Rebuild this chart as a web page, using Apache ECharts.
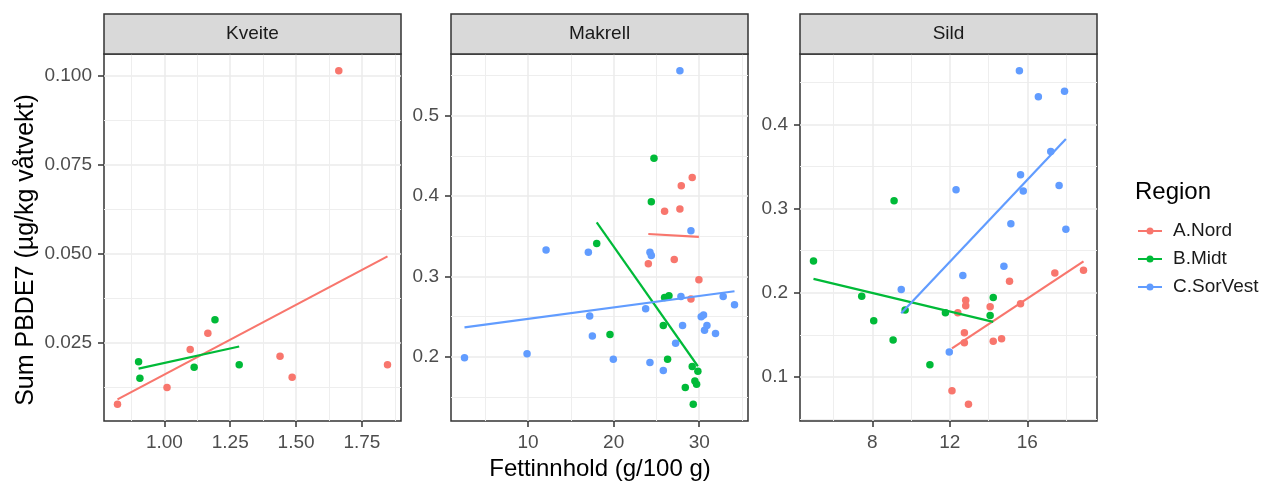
<!DOCTYPE html>
<html>
<head>
<meta charset="utf-8">
<script src="https://cdn.jsdelivr.net/npm/echarts@6/dist/echarts.min.js"></script>
<style>
  html, body { margin: 0; padding: 0; background: #fff; }
  #chart { width: 1262px; height: 482px; }
</style>
</head>
<body>
<div id="chart"></div>
<script>
const species = ['Kveite', 'Makrell', 'Sild']
const regions = ['A.Nord', 'B.Midt', 'C.SorVest']
const regionColors = ['#F8766D', '#00BA38', '#619CFF']

// [fett, sum PBDE7] per art og region
const kveiteNord = [[0.822, 0.0077], [1.010, 0.0124], [1.098, 0.0231], [1.165, 0.0277], [1.439, 0.0212], [1.485, 0.0153], [1.662, 0.1015], [1.847, 0.0188]]
const kveiteMidt = [[0.902, 0.0197], [0.907, 0.0150], [1.113, 0.0181], [1.192, 0.0315], [1.284, 0.0188]]
const kveiteSorVest = []

const makrellNord = [[24.05, 0.316], [25.95, 0.381], [27.08, 0.321], [27.74, 0.384], [27.90, 0.413], [29.03, 0.272], [29.18, 0.423], [29.96, 0.296]]
const makrellMidt = [[18.02, 0.341], [19.57, 0.228], [24.40, 0.393], [24.71, 0.447], [25.80, 0.239], [25.95, 0.274], [26.30, 0.197], [26.46, 0.276], [28.37, 0.162], [29.18, 0.188], [29.30, 0.141], [29.49, 0.170], [29.69, 0.166], [29.84, 0.182]]
const makrellSorVest = [[2.57, 0.199], [9.88, 0.204], [12.10, 0.333], [17.04, 0.330], [17.20, 0.251], [17.51, 0.226], [19.96, 0.197], [23.74, 0.260], [24.24, 0.330], [24.40, 0.326], [24.24, 0.193], [25.80, 0.183], [27.24, 0.217], [27.74, 0.556], [27.86, 0.275], [28.05, 0.239], [29.03, 0.357], [30.23, 0.250], [30.50, 0.252], [30.62, 0.233], [30.90, 0.239], [31.90, 0.229], [32.80, 0.275], [34.12, 0.265]]

const sildNord = [[12.11, 0.0838], [12.41, 0.1762], [12.75, 0.1525], [12.75, 0.1407], [12.82, 0.1912], [12.82, 0.1845], [12.96, 0.0676], [14.08, 0.1833], [14.24, 0.1426], [14.67, 0.1454], [15.08, 0.2137], [15.65, 0.1869], [17.42, 0.2236], [18.90, 0.2267]]
const sildMidt = [[4.96, 0.2378], [7.45, 0.1959], [8.07, 0.1667], [9.07, 0.1438], [9.12, 0.3092], [9.69, 0.1794], [10.97, 0.1146], [11.77, 0.1762], [14.08, 0.1730], [14.24, 0.1944]]
const sildSorVest = [[9.49, 0.2038], [11.97, 0.1296], [12.32, 0.3223], [12.67, 0.2204], [14.79, 0.2315], [15.15, 0.2820], [15.59, 0.4636], [15.65, 0.3400], [15.79, 0.3207], [16.57, 0.4328], [17.21, 0.3677], [17.64, 0.3274], [17.92, 0.4391], [17.99, 0.2753]]

const panelData = [
  [kveiteNord, kveiteMidt, kveiteSorVest],
  [makrellNord, makrellMidt, makrellSorVest],
  [sildNord, sildMidt, sildSorVest]
]

// akseverdier
const xMajor = [[1, 1.25, 1.5, 1.75], [10, 20, 30], [8, 12, 16]]
const xMinor = [[0.875, 1.125, 1.375, 1.625, 1.875], [5, 15, 25, 35], [6, 10, 14, 18]]
const yMajor = [[0.025, 0.05, 0.075, 0.1], [0.2, 0.3, 0.4, 0.5], [0.1, 0.2, 0.3, 0.4]]
const yMinor = [[0.0125, 0.0375, 0.0625, 0.0875], [0.15, 0.25, 0.35, 0.45, 0.55], [0.05, 0.15, 0.25, 0.35, 0.45]]
const xDigits = [2, 0, 0]
const yDigits = [3, 1, 1]

const FONT = '"Liberation Sans", Arial, sans-serif'
const panelLeft = [104, 451, 800]
const panelWidth = 297
const panelTop = 54
const panelHeight = 367

// ggplot legger 5 % luft på hver side
function expandRange(vals) {
  const lo = Math.min(...vals)
  const hi = Math.max(...vals)
  const pad = (hi - lo) * 0.05
  return [lo - pad, hi + pad]
}

// lineær regresjon (geom_smooth method = lm)
function fitLine(points) {
  const n = points.length
  const mx = points.reduce((s, p) => s + p[0], 0) / n
  const my = points.reduce((s, p) => s + p[1], 0) / n
  let sxy = 0
  let sxx = 0
  points.forEach(p => {
    sxy += (p[0] - mx) * (p[1] - my)
    sxx += (p[0] - mx) * (p[0] - mx)
  })
  const b = sxy / sxx
  const a = my - b * mx
  const xs = points.map(p => p[0])
  const x0 = Math.min(...xs)
  const x1 = Math.max(...xs)
  return [[x0, a + b * x0], [x1, a + b * x1]]
}

const grid = []
const xAxis = []
const yAxis = []
const series = []

species.forEach((name, i) => {
  const pts = panelData[i].flat()
  const xr = expandRange(pts.map(p => p[0]))
  const yr = expandRange(pts.map(p => p[1]))

  grid.push({
    left: panelLeft[i], top: panelTop, width: panelWidth, height: panelHeight,
    show: true, borderColor: '#333333', borderWidth: 1.5, backgroundColor: '#fff'
  })

  // minor rutenett
  xAxis.push({
    type: 'value', gridIndex: i, position: 'bottom', min: xr[0], max: xr[1],
    axisLine: { show: false, onZero: false },
    axisLabel: { show: false },
    axisTick: { show: false, customValues: xMinor[i] },
    splitLine: { show: true, customValues: xMinor[i], lineStyle: { color: '#EEEEEE', width: 1 } }
  })
  yAxis.push({
    type: 'value', gridIndex: i, position: 'left', min: yr[0], max: yr[1],
    axisLine: { show: false, onZero: false },
    axisLabel: { show: false },
    axisTick: { show: false, customValues: yMinor[i] },
    splitLine: { show: true, customValues: yMinor[i], lineStyle: { color: '#EEEEEE', width: 1 } }
  })
  // hovedakser
  xAxis.push({
    type: 'value', gridIndex: i, position: 'bottom', min: xr[0], max: xr[1],
    axisLine: { show: false, onZero: false },
    axisTick: { show: true, length: 6, customValues: xMajor[i], lineStyle: { color: '#333333', width: 1.5 } },
    axisLabel: {
      customValues: xMajor[i], margin: 12, color: '#4D4D4D', fontSize: 19, fontFamily: FONT,
      formatter: v => v.toFixed(xDigits[i])
    },
    splitLine: { show: true, customValues: xMajor[i], lineStyle: { color: '#EBEBEB', width: 1.5 } }
  })
  yAxis.push({
    type: 'value', gridIndex: i, position: 'left', min: yr[0], max: yr[1],
    axisLine: { show: false, onZero: false },
    axisTick: { show: true, length: 6, customValues: yMajor[i], lineStyle: { color: '#333333', width: 1.5 } },
    axisLabel: {
      customValues: yMajor[i], margin: 12, color: '#4D4D4D', fontSize: 19, fontFamily: FONT,
      formatter: v => v.toFixed(yDigits[i])
    },
    splitLine: { show: true, customValues: yMajor[i], lineStyle: { color: '#EBEBEB', width: 1.5 } }
  })

  regions.forEach((r, k) => {
    const data = panelData[i][k]
    if (!data.length) return
    series.push({
      type: 'scatter', name: r, xAxisIndex: 2 * i + 1, yAxisIndex: 2 * i + 1,
      data: data, symbolSize: 7.5, itemStyle: { color: regionColors[k], opacity: 1 }, z: 3
    })
  })
  regions.forEach((r, k) => {
    const data = panelData[i][k]
    if (!data.length) return
    series.push({
      type: 'line', name: r, xAxisIndex: 2 * i + 1, yAxisIndex: 2 * i + 1,
      data: fitLine(data), showSymbol: false, symbol: 'none',
      lineStyle: { color: regionColors[k], width: 2.2 }, itemStyle: { color: regionColors[k] }, z: 4
    })
  })
})

const keyIcon = 'path://M0,3L24,3L24,5L0,5Z M8.5,4A3.5,3.5 0 1,1 15.5,4A3.5,3.5 0 1,1 8.5,4Z'

const graphic = []
species.forEach((name, i) => {
  graphic.push({
    type: 'rect', z: 10,
    shape: { x: panelLeft[i], y: 14, width: panelWidth, height: 40 },
    style: { fill: '#D9D9D9', stroke: '#333333', lineWidth: 1.5 }
  })
  graphic.push({
    type: 'text', z: 11, x: panelLeft[i] + panelWidth / 2, y: 34,
    style: { text: name, fill: '#1A1A1A', font: '19px ' + FONT, align: 'center', verticalAlign: 'middle' }
  })
})
graphic.push({
  type: 'text', x: 600, y: 469,
  style: { text: 'Fettinnhold (g/100 g)', fill: '#000', font: '24px ' + FONT, align: 'center', verticalAlign: 'middle' }
})
graphic.push({
  type: 'text', x: 26, y: 250, rotation: Math.PI / 2,
  style: { text: 'Sum PBDE7 (µg/kg våtvekt)', fill: '#000', font: '25px ' + FONT, align: 'center', verticalAlign: 'middle' }
})
graphic.push({
  type: 'text', x: 1135, y: 192,
  style: { text: 'Region', fill: '#000', font: '24px ' + FONT, align: 'left', verticalAlign: 'middle' }
})

const chart = echarts.init(document.getElementById('chart'))
chart.setOption({
  animation: false,
  backgroundColor: '#fff',
  grid: grid,
  xAxis: xAxis,
  yAxis: yAxis,
  legend: {
    orient: 'vertical', left: 1133, top: 216, itemWidth: 24, itemHeight: 7, itemGap: 8,
    selectedMode: false,
    data: regions.map((r, k) => ({ name: r, icon: keyIcon, itemStyle: { color: regionColors[k] } })),
    textStyle: { fontSize: 19, color: '#1A1A1A', fontFamily: FONT, padding: [0, 0, 0, 6], lineHeight: 20 }
  },
  graphic: graphic,
  series: series
})
</script>
</body>
</html>
